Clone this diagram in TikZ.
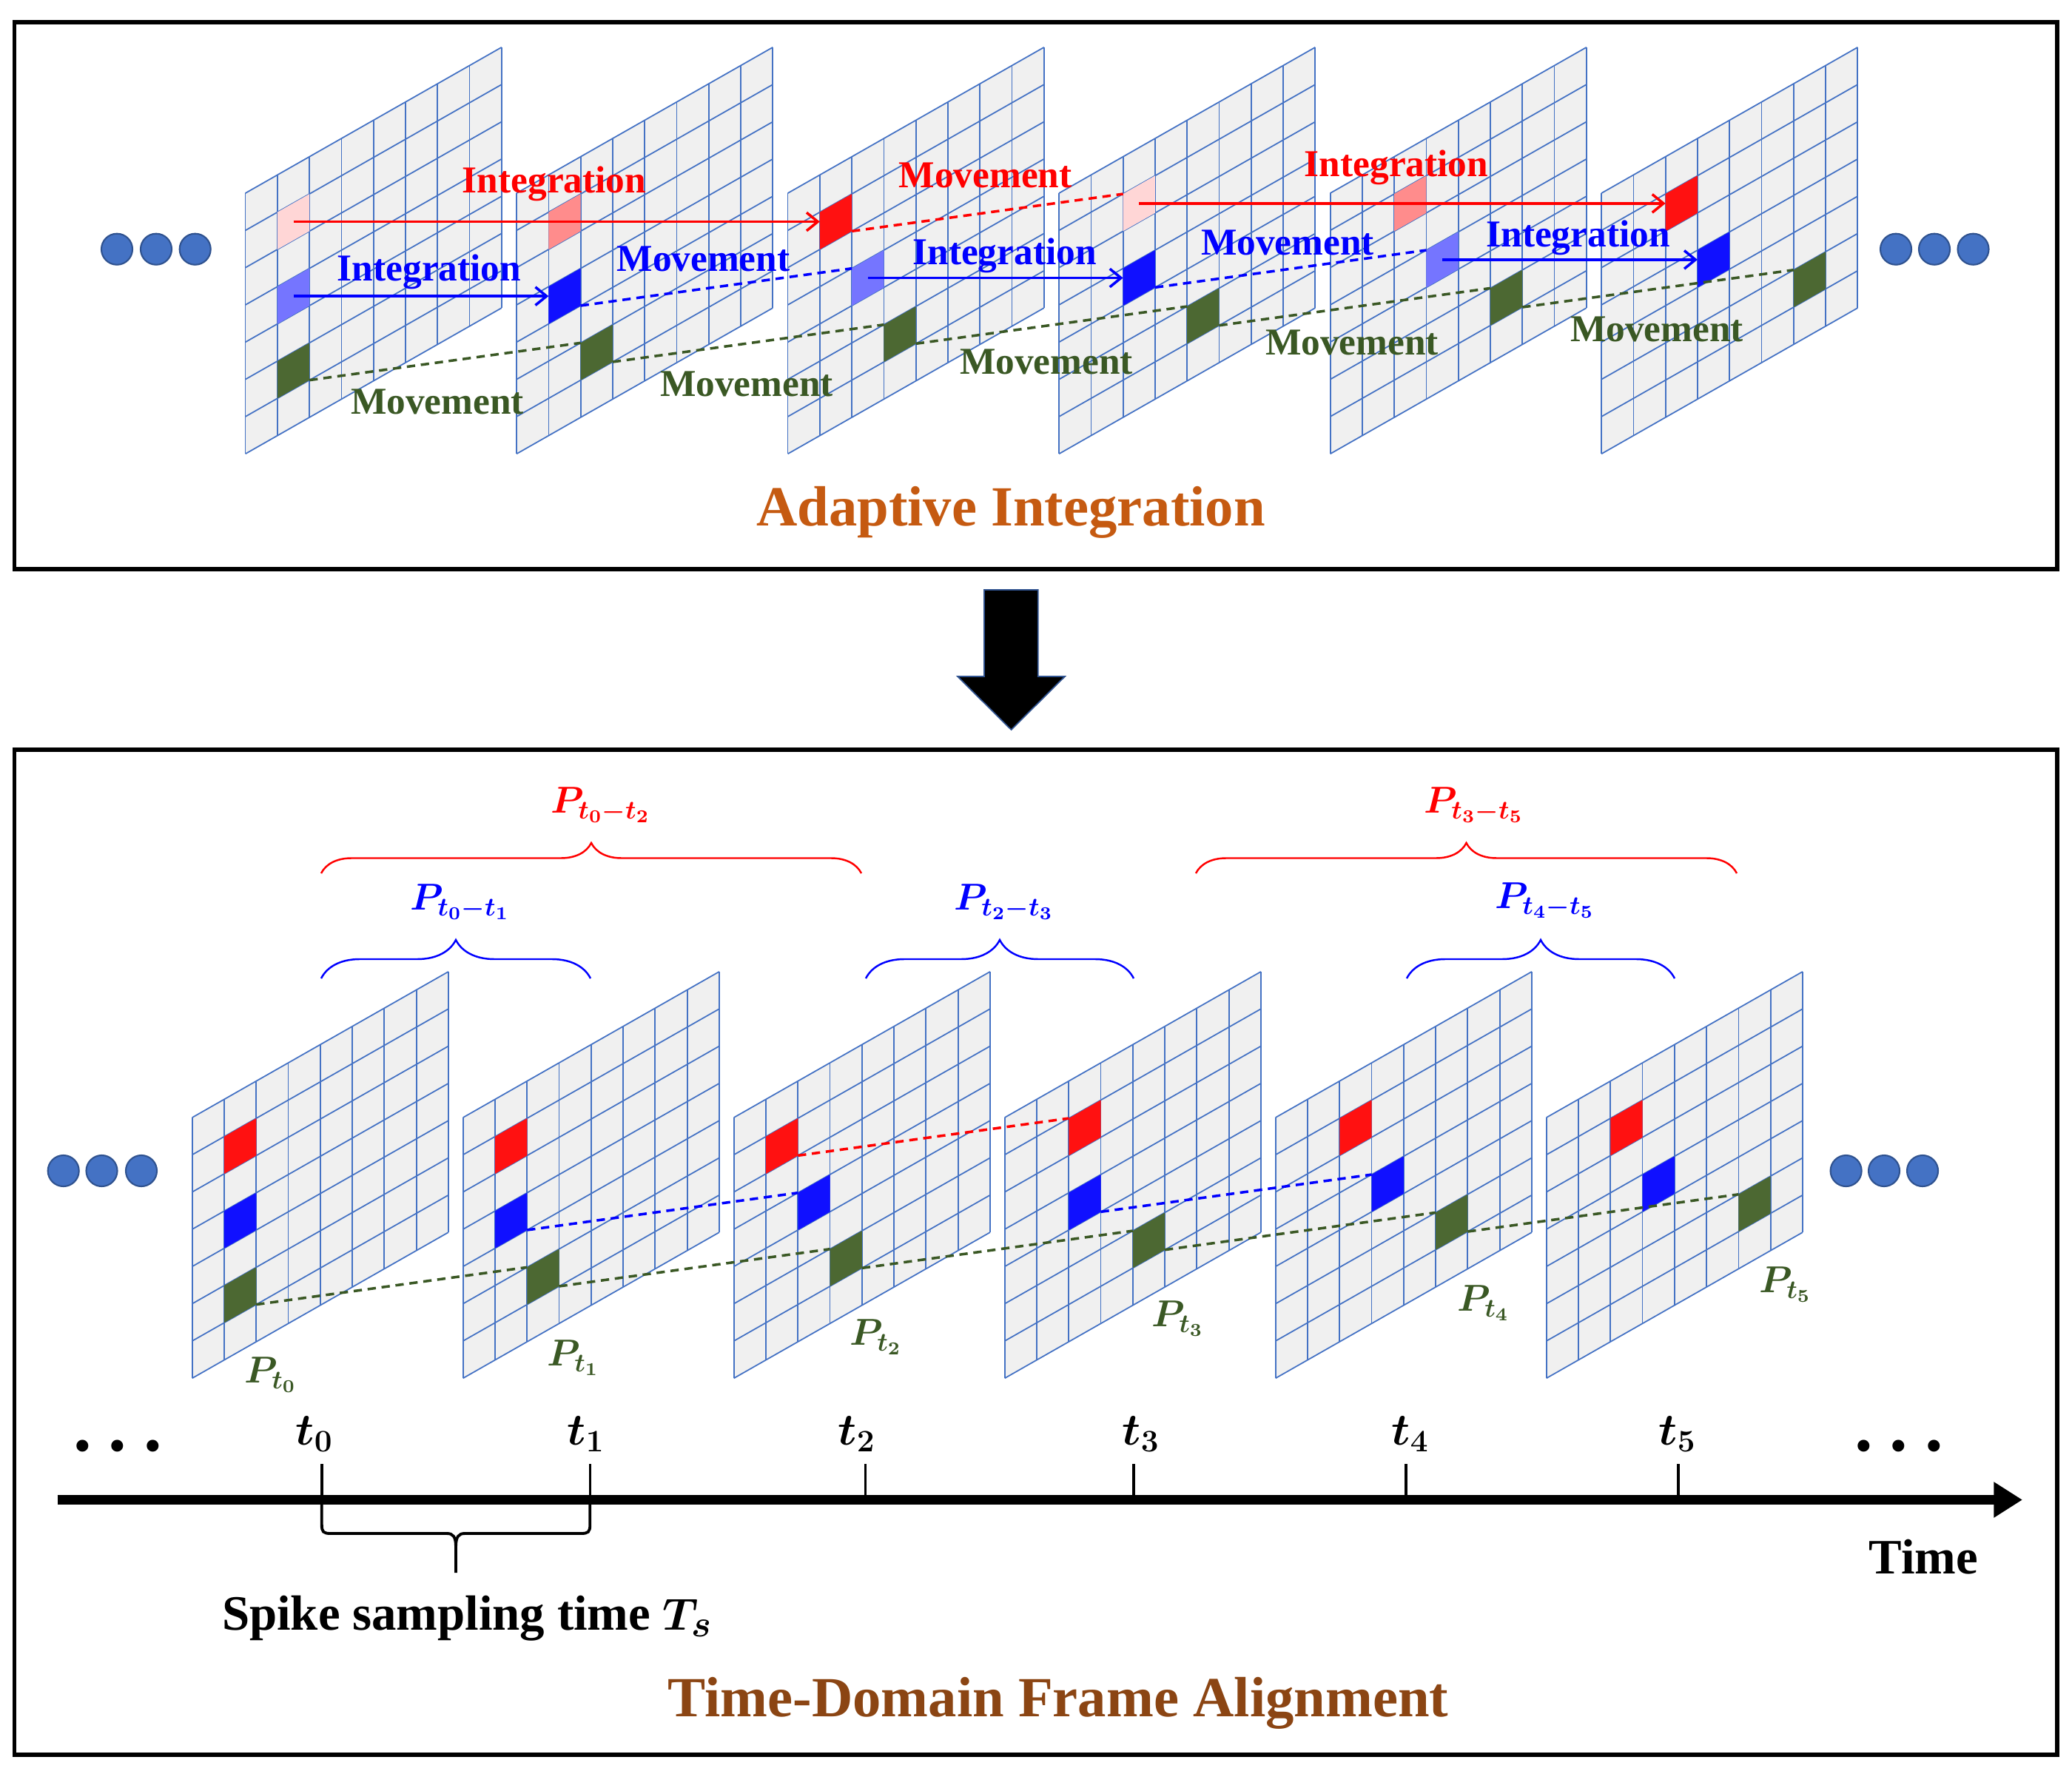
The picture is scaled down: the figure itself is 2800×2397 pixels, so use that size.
\documentclass[tikz,border=0pt]{standalone}
\usepackage{fontspec}
\setmainfont{Liberation Serif}
\usepackage{bm}
\usetikzlibrary{arrows.meta,decorations.pathreplacing}

\definecolor{gridblue}{RGB}{68,114,196}
\definecolor{framegray}{RGB}{240,240,240}
\definecolor{cellred}{RGB}{255,17,17}
\definecolor{cellpink}{RGB}{255,140,140}
\definecolor{cellpale}{RGB}{255,214,214}
\definecolor{cellblue}{RGB}{16,16,255}
\definecolor{cellsky}{RGB}{117,117,255}
\definecolor{cellgreen}{RGB}{76,104,50}
\definecolor{movegreen}{RGB}{58,88,36}
\definecolor{dotedge}{RGB}{47,82,143}
\definecolor{titleorange}{RGB}{197,90,17}
\definecolor{titlebrown}{RGB}{139,69,19}

\tikzset{
  gridline/.style={draw=gridblue,line width=0.5pt},
  lbl/.style={font=\fontsize{14.6}{17}\selectfont\bfseries,anchor=base,inner sep=0pt},
  plbl/.style={font=\fontsize{14.5}{16}\selectfont,inner sep=0pt},
  intarrow/.style={line width=1pt,-{Straight Barb[length=4.3pt,width=7pt]}},
  movedash/.style={line width=1pt,dash pattern=on 3.2pt off 2.2pt},
  redbrace/.style={decorate,decoration={brace,amplitude=0.41cm},draw=red,line width=0.7pt},
  bluebrace/.style={decorate,decoration={brace,amplitude=0.52cm},draw=blue,line width=0.7pt},
  bluedot/.style={circle,fill=gridblue,draw=dotedge,line width=0.6pt,minimum size=0.42cm,inner sep=0pt},
  panelbox/.style={draw=black,line width=1.7pt},
  ticklbl/.style={font=\fontsize{17.5}{19}\selectfont,anchor=base,inner sep=0pt},
  bigdots/.style={font=\fontsize{28}{30}\selectfont\bfseries,inner sep=0pt},
  title/.style={font=\fontsize{21.8}{24}\selectfont\bfseries,anchor=base,inner sep=0pt}
}

% one slanted 8x7 frame: name, x, y, red col, red fill, blue col, blue fill, green col
\newcommand{\spikeframe}[8]{%
  \begin{scope}[shift={(#2,#3)},x={(0.4325cm,0.24625cm)},y={(0cm,-0.5029cm)}]
    \fill[framegray] (0,0) -- (8,0) -- (8,7) -- (0,7) -- cycle;
    \foreach \gx in {0,...,8} \draw[gridline] (\gx,0) -- (\gx,7);
    \foreach \gy in {0,...,7} \draw[gridline] (0,\gy) -- (8,\gy);
    \fill[#5] (#4,1) -- ++(1,0) -- ++(0,1) -- ++(-1,0) -- cycle;
    \fill[#7] (#6,3) -- ++(1,0) -- ++(0,1) -- ++(-1,0) -- cycle;
    \fill[cellgreen] (#8,5) -- ++(1,0) -- ++(0,1) -- ++(-1,0) -- cycle;
    \coordinate (#1-red) at (#4+0.5,1.5);
    \coordinate (#1-red-tl) at (#4,1);
    \coordinate (#1-red-br) at (#4+1,2);
    \coordinate (#1-blue) at (#6+0.5,3.5);
    \coordinate (#1-blue-tl) at (#6,3);
    \coordinate (#1-blue-br) at (#6+1,4);
    \coordinate (#1-green-tl) at (#8,5);
    \coordinate (#1-green-br) at (#8+1,6);
  \end{scope}}

\begin{document}
\begin{tikzpicture}[x=0.01cm,y=-0.01cm]
\useasboundingbox (0,0) rectangle (2800,2397);

% panels
\draw[panelbox] (19.5,30.3) rectangle (2780,769.3);
\draw[panelbox] (19.5,1012.7) rectangle (2780,2371);

% adaptive integration
\spikeframe{a1}{331.6}{261}{1}{cellpale}{1}{cellsky}{1}
\spikeframe{a2}{698.1}{261}{1}{cellpink}{1}{cellblue}{2}
\spikeframe{a3}{1064.6}{261}{1}{cellred}{2}{cellsky}{3}
\spikeframe{a4}{1431.1}{261}{2}{cellpale}{2}{cellblue}{4}
\spikeframe{a5}{1797.6}{261}{2}{cellpink}{3}{cellsky}{5}
\spikeframe{a6}{2164.1}{261}{2}{cellred}{3}{cellblue}{6}

\draw[intarrow,red] (a1-red) -- (a1-red -| a3-red-tl);
\draw[movedash,red] (a3-red-br) -- (a4-red-tl);
\draw[intarrow,red] (a4-red) -- (a4-red -| a6-red-tl);
\draw[intarrow,blue] (a1-blue) -- (a1-blue -| a2-blue-tl);
\draw[movedash,blue] (a2-blue-br) -- (a3-blue-tl);
\draw[intarrow,blue] (a3-blue) -- (a3-blue -| a4-blue-tl);
\draw[movedash,blue] (a4-blue-br) -- (a5-blue-tl);
\draw[intarrow,blue] (a5-blue) -- (a5-blue -| a6-blue-tl);
\foreach \p/\q in {a1/a2,a2/a3,a3/a4,a4/a5,a5/a6}
  \draw[movedash,movegreen] (\p-green-br) -- (\q-green-tl);

\node[lbl,text=red] (int1) at (749,261) {Integration};
\node[lbl,text=blue] (int2) at (580,379.6) {Integration};
\node[lbl,text=movegreen] (mov1) at (591,559) {Movement};
\node[lbl,text=blue] (mov2) at (950.5,366.7) {Movement};
\node[lbl,text=movegreen] (mov3) at (1009,535) {Movement};
\node[lbl,text=red] (mov4) at (1331.6,253.7) {Movement};
\node[lbl,text=blue] (int3) at (1357.6,357.4) {Integration};
\node[lbl,text=movegreen] (mov5) at (1414,505.6) {Movement};
\node[lbl,text=red] (int4) at (1887,238.9) {Integration};
\node[lbl,text=blue] (mov6) at (1740,344.4) {Movement};
\node[lbl,text=movegreen] (mov7) at (1827,479.6) {Movement};
\node[lbl,text=blue] (int5) at (2132.6,333.3) {Integration};
\node[lbl,text=movegreen] (mov8) at (2239,461) {Movement};

\node[bluedot] (dtl1) at (158,336.7) {};
\node[bluedot] (dtl2) at (211,336.7) {};
\node[bluedot] (dtl3) at (263.7,336.7) {};
\node[bluedot] (dtr1) at (2562,336.7) {};
\node[bluedot] (dtr2) at (2614,336.7) {};
\node[bluedot] (dtr3) at (2666.5,336.7) {};

\node[title,text=titleorange] (adapt) at (1366,710.7) {Adaptive Integration};

% big arrow
\filldraw[fill=black,draw=dotedge,line width=0.5pt] (1330,797) -- (1402.7,797) -- (1402.7,914)
  -- (1439,914) -- (1366.5,986) -- (1294,914) -- (1330,914) -- cycle;

% time-domain frame alignment
\spikeframe{b1}{259.7}{1510}{1}{cellred}{1}{cellblue}{1}
\spikeframe{b2}{625.7}{1510}{1}{cellred}{1}{cellblue}{2}
\spikeframe{b3}{991.7}{1510}{1}{cellred}{2}{cellblue}{3}
\spikeframe{b4}{1357.7}{1510}{2}{cellred}{2}{cellblue}{4}
\spikeframe{b5}{1723.7}{1510}{2}{cellred}{3}{cellblue}{5}
\spikeframe{b6}{2089.7}{1510}{2}{cellred}{3}{cellblue}{6}

\draw[movedash,red] (b3-red-br) -- (b4-red-tl);
\draw[movedash,blue] (b2-blue-br) -- (b3-blue-tl);
\draw[movedash,blue] (b4-blue-br) -- (b5-blue-tl);
\foreach \p/\q in {b1/b2,b2/b3,b3/b4,b4/b5,b5/b6}
  \draw[movedash,movegreen] (\p-green-br) -- (\q-green-tl);

\node[plbl,text=movegreen] (pt0) at (366,1858) {$\bm{P_{t_0}}$};
\node[plbl,text=movegreen] (pt1) at (775,1835) {$\bm{P_{t_1}}$};
\node[plbl,text=movegreen] (pt2) at (1184,1807) {$\bm{P_{t_2}}$};
\node[plbl,text=movegreen] (pt3) at (1592,1782) {$\bm{P_{t_3}}$};
\node[plbl,text=movegreen] (pt4) at (2005,1761) {$\bm{P_{t_4}}$};
\node[plbl,text=movegreen] (pt5) at (2413,1736) {$\bm{P_{t_5}}$};

\node[bluedot] (dbl1) at (85.7,1582) {};
\node[bluedot] (dbl2) at (137.5,1582) {};
\node[bluedot] (dbl3) at (191,1582) {};
\node[bluedot] (dbr1) at (2494.6,1582) {};
\node[bluedot] (dbr2) at (2546,1582) {};
\node[bluedot] (dbr3) at (2598,1582) {};

% braces
\draw[redbrace] (434,1180) -- (1164,1180);
\draw[redbrace] (1616,1180) -- (2347,1180);
\draw[bluebrace] (434,1322) -- (798,1322);
\draw[bluebrace] (1170,1322) -- (1532,1322);
\draw[bluebrace] (1901,1322) -- (2263,1322);
\node[plbl,text=red] (p02) at (812,1088) {$\bm{P_{t_0-t_2}}$};
\node[plbl,text=red] (p35) at (1992,1088) {$\bm{P_{t_3-t_5}}$};
\node[plbl,text=blue] (p01) at (622,1219) {$\bm{P_{t_0-t_1}}$};
\node[plbl,text=blue] (p23) at (1357,1219) {$\bm{P_{t_2-t_3}}$};
\node[plbl,text=blue] (p45) at (2088,1217) {$\bm{P_{t_4-t_5}}$};

% time axis
\coordinate (axs) at (77.7,2026.5);
\coordinate (axe) at (2733,2026.5);
\draw[line width=3.8pt,-{Triangle[length=11pt,width=13pt]}] (axs) -- (axe);
\foreach \k/\x in {0/434.8,1/797.3,2/1169.6,3/1532,4/1900,5/2268}{
  \coordinate (k\k) at (\x,1978);
  \draw[line width=1pt] (k\k) -- (k\k |- axs);
}
\node[ticklbl] (t0) at (425,1952) {$\bm{t_0}$};
\node[ticklbl] (t1) at (792,1952) {$\bm{t_1}$};
\node[ticklbl] (t2) at (1158,1952) {$\bm{t_2}$};
\node[ticklbl] (t3) at (1542,1952) {$\bm{t_3}$};
\node[ticklbl] (t4) at (1906,1952) {$\bm{t_4}$};
\node[ticklbl] (t5) at (2267,1952) {$\bm{t_5}$};
\node[bigdots] (ell1) at (159,1954) {.\kern6.5pt.\kern6.5pt.};
\node[bigdots] (ell2) at (2566,1954) {.\kern6.5pt.\kern6.5pt.};

% sampling brace
\draw[line width=1.1pt] (434.8,2033) -- (434.8,2060) .. controls (434.8,2070) and (437,2072) .. (447,2072)
  -- (604,2072) .. controls (612,2072) and (616,2076) .. (616,2090) -- (616,2125);
\draw[line width=1.1pt] (616,2090) .. controls (616,2076) and (620,2072) .. (628,2072)
  -- (785,2072) .. controls (795,2072) and (797.3,2070) .. (797.3,2060) -- (797.3,2033);

\node[lbl,font=\fontsize{19}{22}\selectfont\bfseries] (spike) at (631.7,2202.8) {Spike sampling time $\bm{T_s}$};
\node[lbl,font=\fontsize{19}{22}\selectfont\bfseries] (timel) at (2599.5,2126.6) {Time};
\node[title,text=titlebrown] (align) at (1430,2319) {Time-Domain Frame Alignment};
\end{tikzpicture}
\end{document}
